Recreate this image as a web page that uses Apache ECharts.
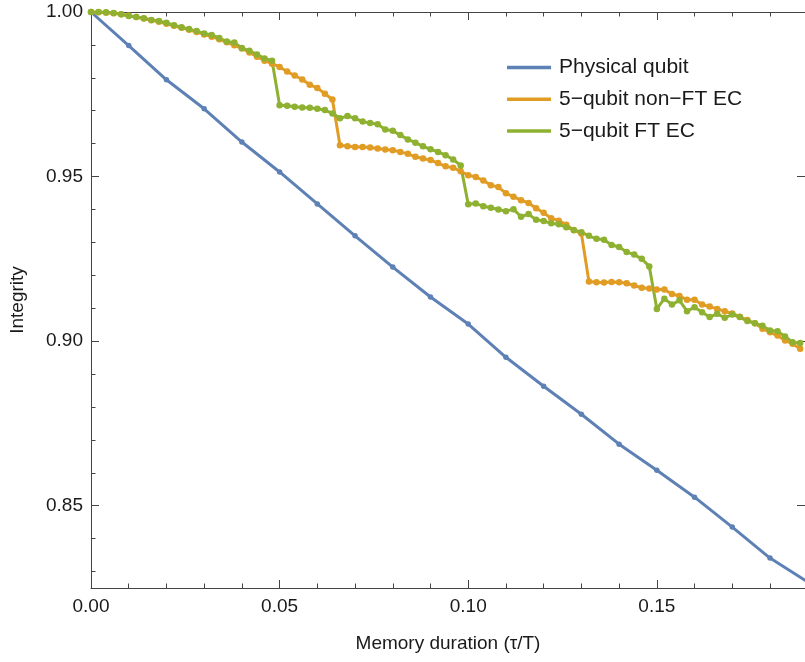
<!DOCTYPE html>
<html>
<head>
<meta charset="utf-8">
<script src="https://cdn.jsdelivr.net/npm/echarts@6/dist/echarts.min.js"></script>
<style>
  html, body { margin: 0; padding: 0; background: #ffffff; }
  #chart { width: 805px; height: 662px; }
</style>
</head>
<body>
<div id="chart"></div>
<script>
// Memory integrity of a stored qubit versus storage time.
const seriesNames = ['Physical qubit', '5\u2212qubit non\u2212FT EC', '5\u2212qubit FT EC'];
const seriesColors = ['#5E81B5', '#E19C24', '#8FB131'];

// Physical qubit, sampled every 0.01
const physicalTimes = [0, 0.01, 0.02, 0.03, 0.04, 0.05, 0.06, 0.07, 0.08, 0.09,
  0.10, 0.11, 0.12, 0.13, 0.14, 0.15, 0.16, 0.17, 0.18, 0.19];
const physicalIntegrity = [1.0000, 0.9898, 0.9794, 0.9706, 0.9605, 0.9514, 0.9417, 0.9320, 0.9225, 0.9134,
  0.9052, 0.8951, 0.8863, 0.8778, 0.8687, 0.8608, 0.8526, 0.8435, 0.8341, 0.8268];

// Encoded qubits, sampled every 0.002 from 0 to 0.188
const codeStep = 0.002;
const codeSamples = 95;
const nonFtIntegrity = [
  1.0000, 0.9999, 0.9998, 0.9996, 0.9993, 0.9989, 0.9985, 0.9980, 0.9975, 0.9970,
  0.9964, 0.9958, 0.9952, 0.9946, 0.9939, 0.9932, 0.9925, 0.9917, 0.9908, 0.9899,
  0.9889, 0.9877, 0.9864, 0.9852, 0.9843, 0.9833, 0.9819, 0.9807, 0.9795, 0.9779,
  0.9769, 0.9752, 0.9734, 0.9595, 0.9592, 0.9590, 0.9590, 0.9588, 0.9585, 0.9582,
  0.9580, 0.9575, 0.9569, 0.9560, 0.9555, 0.9550, 0.9541, 0.9531, 0.9527, 0.9516,
  0.9504, 0.9499, 0.9488, 0.9474, 0.9468, 0.9449, 0.9439, 0.9428, 0.9420, 0.9404,
  0.9390, 0.9373, 0.9366, 0.9354, 0.9337, 0.9327, 0.9181, 0.9179, 0.9178, 0.9180,
  0.9179, 0.9176, 0.9169, 0.9162, 0.9160, 0.9157, 0.9157, 0.9143, 0.9137, 0.9126,
  0.9126, 0.9111, 0.9105, 0.9098, 0.9091, 0.9084, 0.9074, 0.9064, 0.9054, 0.9038,
  0.9027, 0.9017, 0.9002, 0.8992, 0.8977
];
const ftIntegrity = [
  1.0000, 1.0000, 0.9999, 0.9997, 0.9993, 0.9988, 0.9985, 0.9981, 0.9976, 0.9973,
  0.9967, 0.9960, 0.9954, 0.9948, 0.9942, 0.9935, 0.9930, 0.9921, 0.9910, 0.9907,
  0.9891, 0.9882, 0.9871, 0.9859, 0.9852, 0.9717, 0.9715, 0.9712, 0.9710, 0.9709,
  0.9706, 0.9702, 0.9692, 0.9677, 0.9684, 0.9677, 0.9667, 0.9663, 0.9659, 0.9643,
  0.9639, 0.9626, 0.9613, 0.9603, 0.9592, 0.9583, 0.9575, 0.9565, 0.9552, 0.9534,
  0.9416, 0.9418, 0.9410, 0.9405, 0.9400, 0.9395, 0.9401, 0.9378, 0.9386, 0.9369,
  0.9365, 0.9358, 0.9355, 0.9346, 0.9338, 0.9331, 0.9320, 0.9311, 0.9308, 0.9292,
  0.9286, 0.9271, 0.9263, 0.9250, 0.9227, 0.9098, 0.9129, 0.9111, 0.9124, 0.9091,
  0.9103, 0.9088, 0.9073, 0.9083, 0.9071, 0.9081, 0.9073, 0.9061, 0.9054, 0.9047,
  0.9032, 0.9030, 0.9014, 0.8997, 0.8994
];

// Axis ticks
const xMajorTicks = [0, 0.05, 0.10, 0.15];
const xMinorTicks = [0.01, 0.02, 0.03, 0.04, 0.06, 0.07, 0.08, 0.09, 0.11, 0.12, 0.13, 0.14, 0.16, 0.17, 0.18];
const yMajorTicks = [0.85, 0.90, 0.95, 1.00];
const yMinorTicks = [0.83, 0.84, 0.86, 0.87, 0.88, 0.89, 0.91, 0.92, 0.93, 0.94, 0.96, 0.97, 0.98, 0.99];
const xRange = [0, 0.18928];
const yRange = [0.825, 1.0];

const codeTimes = [];
for (let i = 0; i < codeSamples; i++) codeTimes.push(+(i * codeStep).toFixed(3));

const pairs = (xs, ys) => xs.map((x, i) => [x, ys[i]]);

const FONT = 'Liberation Sans, Arial, Helvetica, sans-serif';
const FRAME = '#444444';
const TEXT = '#1a1a1a';

function frameAxis(kind, position, ticks, major, withLine, withLabels, extra) {
  const range = kind === 'x' ? xRange : yRange;
  return Object.assign({
    type: 'value',
    position: position,
    min: range[0],
    max: range[1],
    splitLine: { show: false },
    axisLine: { show: withLine, onZero: false, lineStyle: { color: FRAME, width: 1 } },
    axisTick: {
      show: true, inside: true, customValues: ticks,
      length: major ? 8 : 4.5,
      lineStyle: { color: FRAME, width: 1 }
    },
    axisLabel: withLabels ? {
      show: true, customValues: ticks,
      formatter: v => v.toFixed(2),
      color: TEXT, fontFamily: FONT, fontSize: 19,
      margin: kind === 'x' ? 9 : 8,
      padding: kind === 'x' ? 0 : [3, 0, 0, 0]
    } : { show: false }
  }, extra || {});
}

const chart = echarts.init(document.getElementById('chart'), null, { renderer: 'canvas' });

chart.setOption({
  animation: false,
  backgroundColor: '#ffffff',
  grid: { left: 91, right: -3, top: 12, bottom: 74, containLabel: false },
  xAxis: [
    frameAxis('x', 'bottom', xMajorTicks, true, true, true, {
      name: 'Memory duration (\u03C4/T)',
      nameLocation: 'middle',
      nameGap: 46,
      nameTextStyle: { color: TEXT, fontFamily: FONT, fontSize: 19 }
    }),
    frameAxis('x', 'bottom', xMinorTicks, false, false, false),
    frameAxis('x', 'top', xMajorTicks, true, true, false),
    frameAxis('x', 'top', xMinorTicks, false, false, false)
  ],
  yAxis: [
    frameAxis('y', 'left', yMajorTicks, true, true, true, {
      name: 'Integrity',
      nameLocation: 'middle',
      nameGap: 64,
      nameRotate: 90,
      nameTextStyle: { color: TEXT, fontFamily: FONT, fontSize: 19 }
    }),
    frameAxis('y', 'left', yMinorTicks, false, false, false),
    frameAxis('y', 'right', yMajorTicks, true, true, false)
  ],
  legend: {
    orient: 'vertical',
    left: 502,
    top: 52,
    icon: 'rect',
    itemWidth: 44,
    itemHeight: 3.5,
    itemGap: 10.7,
    textStyle: { color: TEXT, fontFamily: FONT, fontSize: 21, lineHeight: 21, padding: [0, 0, 0, 3] },
    data: seriesNames
  },
  series: [
    {
      name: seriesNames[0],
      type: 'line',
      data: pairs(physicalTimes, physicalIntegrity),
      color: seriesColors[0],
      lineStyle: { width: 3, color: seriesColors[0] },
      symbol: 'circle', symbolSize: 5.5, showAllSymbol: true,
      itemStyle: { color: seriesColors[0] },
      clip: true
    },
    {
      name: seriesNames[1],
      type: 'line',
      data: pairs(codeTimes, nonFtIntegrity),
      color: seriesColors[1],
      lineStyle: { width: 3, color: seriesColors[1] },
      symbol: 'circle', symbolSize: 6.5, showAllSymbol: true,
      itemStyle: { color: seriesColors[1] },
      clip: true
    },
    {
      name: seriesNames[2],
      type: 'line',
      data: pairs(codeTimes, ftIntegrity),
      color: seriesColors[2],
      lineStyle: { width: 3, color: seriesColors[2] },
      symbol: 'circle', symbolSize: 6.5, showAllSymbol: true,
      itemStyle: { color: seriesColors[2] },
      clip: true
    }
  ]
});
</script>
</body>
</html>
